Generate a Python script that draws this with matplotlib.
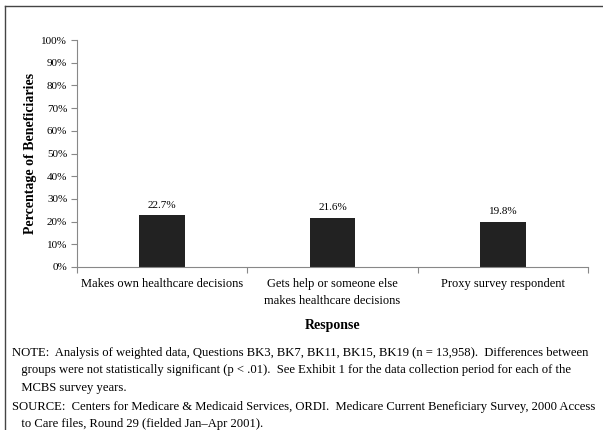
import matplotlib
matplotlib.use("Agg")
import matplotlib.pyplot as plt
from matplotlib.lines import Line2D

categories = ["Makes own healthcare decisions",
              "Gets help or someone else\nmakes healthcare decisions",
              "Proxy survey respondent"]
values = [22.7, 21.6, 19.8]
yticks = [0, 10, 20, 30, 40, 50, 60, 70, 80, 90, 100]

note = ("NOTE:  Analysis of weighted data, Questions BK3, BK7, BK11, BK15, BK19 (n = 13,958).  Differences between\n"
        "   groups were not statistically significant (p < .01).  See Exhibit 1 for the data collection period for each of the\n"
        "   MCBS survey years.")
source = ("SOURCE:  Centers for Medicare & Medicaid Services, ORDI.  Medicare Current Beneficiary Survey, 2000 Access\n"
          "   to Care files, Round 29 (fielded Jan\u2013Apr 2001).")

W, H = 603, 430
plt.rcParams["font.family"] = ["Liberation Serif", "DejaVu Serif"]

fig = plt.figure(figsize=(W / 100, H / 100), dpi=100)


def fx(x):
    return x / W


def fy(y):
    return 1 - y / H


ax = fig.add_axes([fx(77), fy(267), fx(588) - fx(77), fy(40) - fy(267)])
x = list(range(len(categories)))
bars = ax.bar(x, values, width=0.27, color="#222222")
for b, v in zip(bars, values):
    ax.text(b.get_x() + b.get_width() / 2, v + 2.5, f"{v:.1f}%",
            ha="center", va="bottom", fontsize=8)

ax.set_xlim(-0.5, len(categories) - 0.5)
ax.set_ylim(0, 100)
ax.set_yticks(yticks)
ax.set_yticklabels([f"{t}%" for t in yticks], fontsize=8)
ax.set_xticks([-0.5, 0.5, 1.5, 2.5])
ax.set_xticklabels([])
ax.tick_params(axis="both", direction="out", length=4, color="#888888", width=0.8)
ax.tick_params(axis="y", pad=3)
for s in ["top", "right"]:
    ax.spines[s].set_visible(False)
for s in ["left", "bottom"]:
    ax.spines[s].set_color("#888888")
    ax.spines[s].set_linewidth(0.8)

for i, c in enumerate(categories):
    ax.text(i, -4.8, c, ha="center", va="top", fontsize=9, linespacing=1.6,
            transform=ax.transData)

ax.set_ylabel("Percentage of Beneficiaries", fontsize=10, fontweight="bold", labelpad=3)
fig.text(fx(333), fy(326), "Response", ha="center", va="center", fontsize=10, fontweight="bold")

fig.text(fx(12), fy(347), note, ha="left", va="top", fontsize=9.1, linespacing=1.6)
fig.text(fx(12), fy(401), source, ha="left", va="top", fontsize=9.1, linespacing=1.55)

# frame around the exhibit (top and left edges visible)
fig.add_artist(Line2D([fx(5), fx(603)], [fy(6), fy(6)], color="#444444", lw=1))
fig.add_artist(Line2D([fx(5), fx(5)], [fy(6), 0], color="#444444", lw=1))

fig.savefig("out.png", dpi=100)
